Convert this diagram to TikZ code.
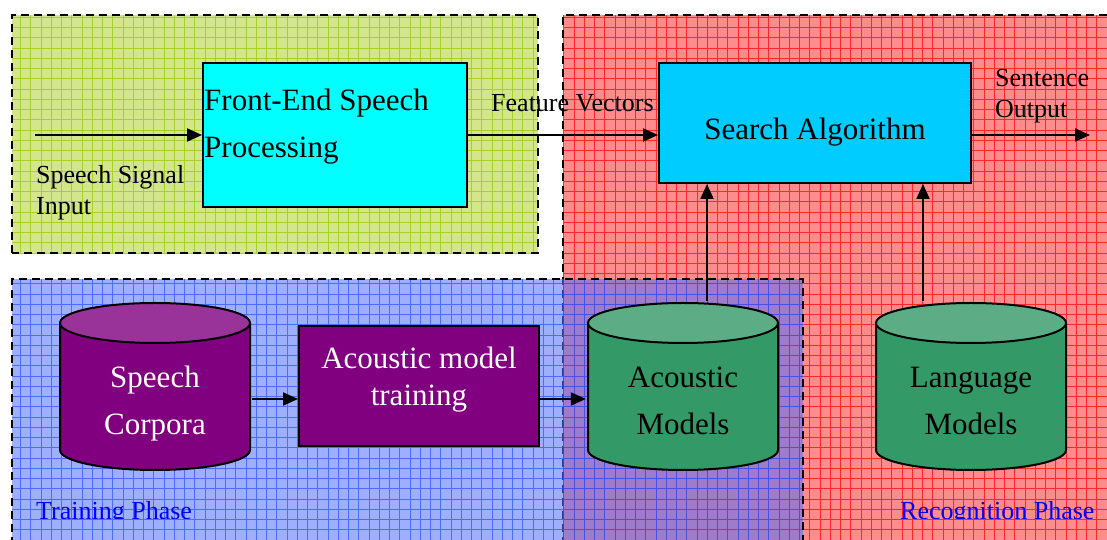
\documentclass[tikz,border=0pt]{standalone}
\usepackage{fontspec}
\setmainfont{Liberation Serif}
\usetikzlibrary{arrows.meta}
\definecolor{greenphase}{RGB}{212,230,140}
\definecolor{greengrid}{RGB}{168,208,40}
\definecolor{redphase}{RGB}{255,140,140}
\definecolor{redgrid}{RGB}{255,40,40}
\definecolor{bluephase}{RGB}{80,110,255}
\definecolor{bluegrid}{RGB}{40,80,255}
\definecolor{frontcyan}{RGB}{0,255,255}
\definecolor{searchblue}{RGB}{0,204,255}
\definecolor{trainpurple}{RGB}{128,0,128}
\definecolor{dbgreen}{RGB}{51,153,102}
\tikzstyle{phase}=[line width=2pt, dash pattern=on 8pt off 5pt]
\tikzstyle{phasegrid}=[line width=0.9pt, step=10.25pt]
\tikzstyle{blockbox}=[draw, line width=2pt, inner sep=2pt]
\tikzstyle{bigtext}=[font=\fontsize{31}{47}\selectfont]
\tikzstyle{smalltext}=[font=\fontsize{26}{31}\selectfont, inner sep=0pt]
\tikzstyle{flow}=[line width=2pt, -{Triangle[length=15pt, width=13pt]}]
\tikzstyle{database}=[minimum width=194pt, minimum height=171pt, inner sep=0pt,
  path picture={
    \begin{scope}[shift={(path picture bounding box.center)}, line width=2pt]
      \filldraw[fill=#1] (-95,63.5) -- (-95,-63.5) arc[start angle=180, end angle=360, x radius=95, y radius=20] -- (95,63.5);
      \filldraw[fill=#1!80!white] (0,63.5) ellipse [x radius=95, y radius=20];
    \end{scope}}]

\begin{document}
\begin{tikzpicture}[x=1pt, y=1pt]
  \clip (0,0) rectangle (1107,540);
  % recognition phase
  \fill[redphase] (563,-5) rectangle (1112,525);
  \draw[phasegrid, redgrid] (563,-5) grid (1112,525);
  \draw[phase] (563,-5) -- (563,525) -- (1112,525);
  % front-end phase
  \fill[greenphase] (12,287) rectangle (538,525);
  \draw[phasegrid, greengrid] (12,287) grid (538,525);
  \draw[phase] (12,287) rectangle (538,525);
  % training phase
  \fill[bluephase, opacity=0.55] (12,-5) rectangle (803,261);
  \draw[phasegrid, bluegrid, opacity=0.7] (12,-5) grid (803,261);
  \draw[phase] (12,-5) -- (12,261) -- (803,261) -- (803,-5);

  \node[blockbox, fill=frontcyan, minimum width=264pt, minimum height=144pt,
    label={[bigtext, anchor=north west, align=left, inner sep=0pt, xshift=2pt, yshift=-27pt]north west:Front-End Speech\\Processing}] (frontend) at (335,405) {};
  \node[blockbox, fill=searchblue, minimum width=312pt, minimum height=120pt,
    label={[bigtext, yshift=-9pt]center:Search Algorithm}] (search) at (815,417) {};
  \node[blockbox, fill=trainpurple, minimum width=240pt, minimum height=120pt,
    label={[bigtext, font=\fontsize{31}{37}\selectfont, text=white, align=center, yshift=6pt]center:Acoustic model\\training}] (training) at (419,154) {};

  \node[database=trainpurple, label={[bigtext, text=white, align=center, yshift=-17pt]center:Speech\\Corpora}] (corpora) at (155,153.5) {};
  \node[database=dbgreen, label={[bigtext, align=center, yshift=-14pt]center:Acoustic\\Models}] (acoustic) at (683,153.5) {};
  \node[database=dbgreen, label={[bigtext, align=center, yshift=-15pt]center:Language\\Models}] (language) at (971,153.5) {};

  \coordinate (signal in) at (35,405);
  \coordinate (sentence out) at (1090,405);
  \draw[flow] (signal in) -- (frontend.west);
  \draw[flow] (frontend.east) -- (frontend.east -| search.west);
  \draw[flow] (search.east |- sentence out) -- (sentence out);
  \draw[flow] ([yshift=-12.5pt]corpora.east) -- ([yshift=-12.5pt]corpora.east -| training.west);
  \draw[flow] ([yshift=-13pt]training.east) -- ([yshift=-13pt]training.east -| acoustic.west);
  \draw[flow] ([xshift=24pt]acoustic.north) -- ([xshift=24pt]acoustic.north |- search.south);
  \draw[flow] ([xshift=-48pt]language.north) -- ([xshift=-48pt]language.north |- search.south);

  \node[smalltext, anchor=north west, align=left] (signal) at (36,375) {Speech Signal\\Input};
  \node[smalltext, anchor=base west] (feature) at (491,428) {Feature Vectors};
  \node[smalltext, anchor=north west, align=left] (sentence) at (995,470.5) {Sentence\\Output};
  \begin{scope}
    \clip (0,21) rectangle (1107,540);
    \node[smalltext, text=blue, anchor=base west] (trainphase) at (36,20.5) {Training Phase};
    \node[smalltext, text=blue, anchor=base west] (recogphase) at (900,20.5) {Recognition Phase};
  \end{scope}
\end{tikzpicture}
\end{document}
